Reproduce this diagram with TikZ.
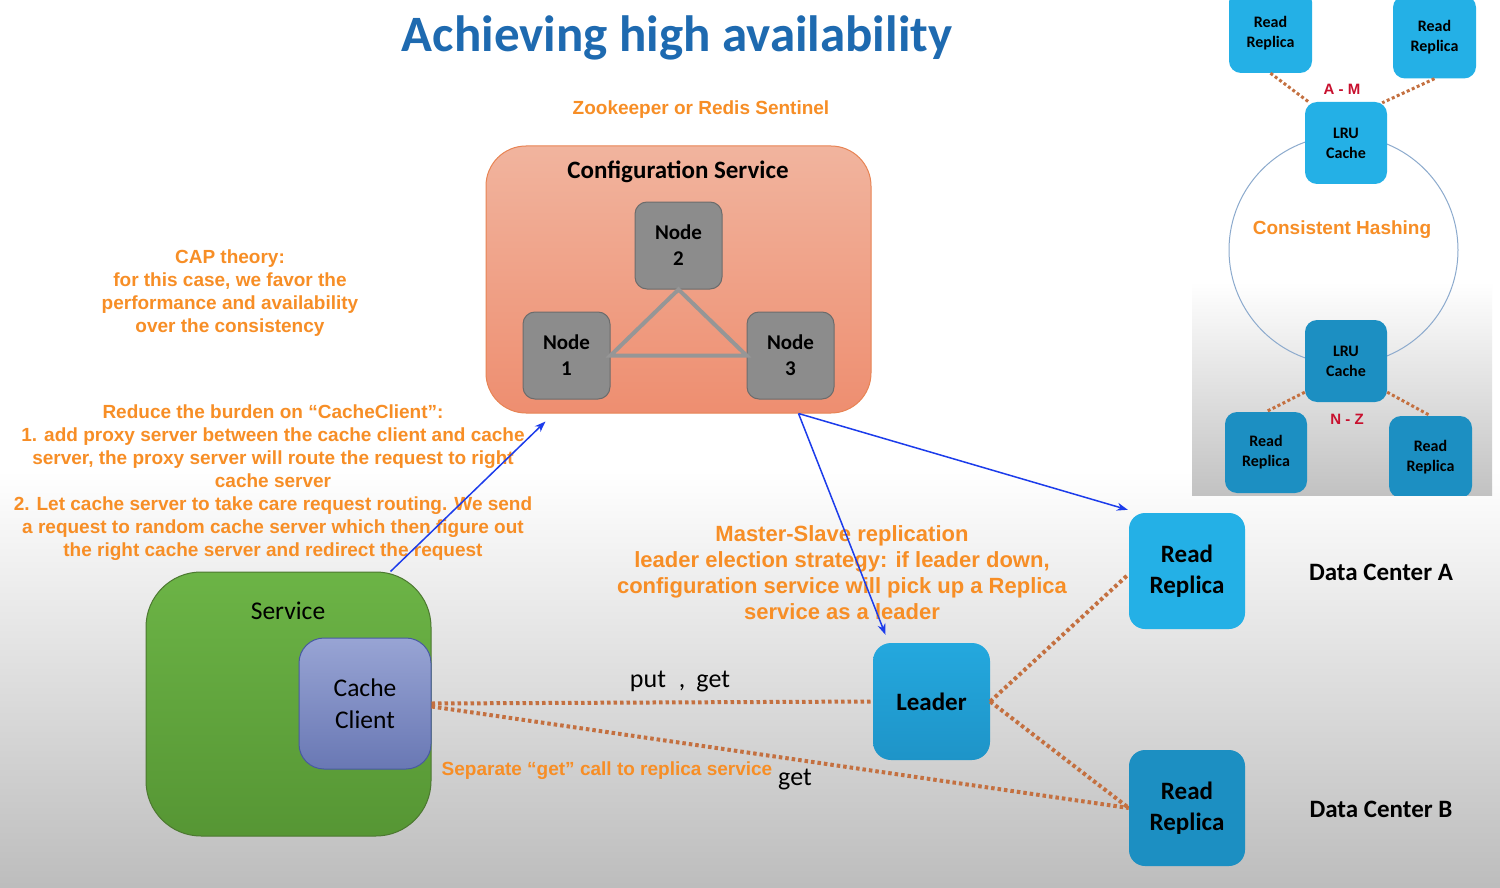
\documentclass[tikz,border=0pt]{standalone}
\usepackage{fontspec}
\setmainfont{Carlito}
\newfontfamily\arialf{Liberation Sans}
\usetikzlibrary{arrows.meta}
\definecolor{orng}{RGB}{247,142,38}
\definecolor{ttl}{RGB}{30,106,176}
\definecolor{dotc}{RGB}{196,112,64}
\definecolor{blu}{RGB}{28,60,235}
\definecolor{cfgT}{RGB}{241,180,158}
\definecolor{cfgB}{RGB}{238,142,112}
\definecolor{cfgD}{RGB}{232,132,84}
\definecolor{ndF}{RGB}{140,140,140}
\definecolor{ndD}{RGB}{108,108,108}
\definecolor{triC}{RGB}{150,150,150}
\definecolor{svT}{RGB}{108,180,70}
\definecolor{svB}{RGB}{86,150,52}
\definecolor{svD}{RGB}{76,120,48}
\definecolor{ccT}{RGB}{152,164,212}
\definecolor{ccB}{RGB}{105,120,180}
\definecolor{ccD}{RGB}{72,90,160}
\definecolor{bxA}{RGB}{36,176,230}
\definecolor{bxB}{RGB}{28,143,194}
\definecolor{ldT}{RGB}{36,168,222}
\definecolor{ldB}{RGB}{30,148,200}
\definecolor{circC}{RGB}{140,170,205}
\definecolor{redl}{RGB}{200,16,46}
\begin{document}
\begin{tikzpicture}[x=1pt,y=-1pt,
  box/.style={rectangle, inner sep=0pt, align=center},
  txt/.style={inner sep=0pt, align=center},
  otxt/.style={txt, text=orng, font=\arialf\bfseries\fontsize{19}{23}\selectfont},
  dotline/.style={draw=dotc, line width=4pt, dash pattern=on 3.5pt off 3pt},
  sdotline/.style={draw=dotc, line width=3pt, dash pattern=on 3pt off 2.5pt},
  bluearrow/.style={draw=blu, line width=1.5pt, -{Stealth[length=11pt,width=8pt]}},
  gnode/.style={box, minimum width=87, minimum height=87, rounded corners=12pt, fill=ndF, draw=ndD, line width=1pt, font=\bfseries\fontsize{21}{26}\selectfont},
  rrbig/.style={box, minimum width=116, minimum height=116, rounded corners=16pt, font=\bfseries\fontsize{25}{31}\selectfont},
  smallbox/.style={box, rounded corners=12pt, font=\bfseries\fontsize{16}{20}\selectfont}
]
\useasboundingbox (0,0) rectangle (1500,888);
\fill[white] (0,0) rectangle (1500,888);
\shade[top color=white, bottom color=black!26] (0,470) rectangle (1500,888);

% ---------- inset ----------
\begin{scope}
\clip (1192,0) rectangle (1492,495);
\fill[white] (1192,0) rectangle (1492,495);
\shade[top color=white, bottom color=black!24] (1192,282) rectangle (1492,495);
\draw[circC, line width=1pt] (1343.5,250) circle[radius=114.5];
\node[smallbox, minimum width=82, minimum height=82, fill=bxA] (lrut) at (1346,143) {LRU\\Cache};
\node[smallbox, minimum width=82, minimum height=82, fill=bxB] (lrub) at (1346,361) {LRU\\Cache};
\node[smallbox, minimum width=83, minimum height=83, fill=bxA, text depth=0pt] (tl) at (1270.5,31.5) {\rule{0pt}{4pt}Read\\Replica};
\node[smallbox, minimum width=83, minimum height=83, fill=bxA] (tr) at (1434.5,37) {Read\\Replica};
\node[smallbox, minimum width=82, minimum height=81, fill=bxB] (bl) at (1266,452.5) {Read\\Replica};
\node[smallbox, minimum width=83, minimum height=82, fill=bxB] (br) at (1430.5,457) {Read\\Replica};
\draw[sdotline] (tl.south) -- ([xshift=5pt,yshift=-1pt]lrut.north west);
\draw[sdotline] (tr.south) -- ([xshift=-5pt,yshift=-1pt]lrut.north east);
\draw[sdotline] ([yshift=10pt]lrub.south west) -- (bl.north);
\draw[sdotline] ([yshift=10pt]lrub.south east) -- (br.north);
\node[txt, text=redl, font=\arialf\bfseries\fontsize{15}{17}\selectfont] (am) at (1342,89) {A - M};
\node[txt, text=redl, font=\arialf\bfseries\fontsize{15}{17}\selectfont] (nz) at (1347,419) {N - Z};
\node[txt, text=orng, font=\arialf\bfseries\fontsize{19}{23}\selectfont] (ch) at (1342,230) {Consistent Hashing};
\end{scope}

% ---------- title ----------
\node[txt, text=ttl, font=\bfseries\fontsize{51}{60}\selectfont] (title) at (677,38) {Achieving high availability};
\node[otxt, font=\arialf\bfseries\fontsize{19}{22}\selectfont] (zoo) at (701,110) {Zookeeper or Redis Sentinel};

% ---------- configuration service ----------
\node[box, minimum width=385, minimum height=267, rounded corners=40pt, top color=cfgT, bottom color=cfgB, draw=cfgD, line width=1pt] (conf) at (678.5,279.5) {};
\node[txt, font=\bfseries\fontsize{25}{28}\selectfont] (conft) at (678,172) {Configuration Service};
\node[gnode] (n2) at (678.5,245.5) {Node\\2};
\node[gnode] (n1) at (566.5,355.5) {Node\\1};
\node[gnode] (n3) at (790.5,355.5) {Node\\3};
\draw[triC, line width=4pt, line join=miter] (n2.south) -- (n1.east) -- (n3.west) -- cycle;

% ---------- left texts ----------
\node[otxt] (cap) at (230,293) {CAP theory:\\for this case, we favor the\\performance and availability\\over the consistency};
\node[otxt] (reduce) at (273,483) {Reduce the burden on “CacheClient”:\\1. add proxy server between the cache client and cache\\server, the proxy server will route the request to right\\cache server\\2. Let cache server to take care request routing. We send\\a request to random cache server which then figure out\\the right cache server and redirect the request};

% ---------- service ----------
\node[box, minimum width=285, minimum height=264, rounded corners=55pt, top color=svT, bottom color=svB, draw=svD, line width=1pt] (svc) at (288.5,704) {};
\node[txt, font=\fontsize{25.5}{28}\selectfont] (svct) at (288,611) {Service};
\node[box, minimum width=132, minimum height=131, rounded corners=25pt, top color=ccT, bottom color=ccB, draw=ccD, line width=1pt, font=\fontsize{25.5}{32}\selectfont] (cc) at (365,703.5) {Cache\\Client};

% ---------- leader / replicas ----------
\node[box, minimum width=117, minimum height=117, rounded corners=18pt, top color=ldT, bottom color=ldB, font=\bfseries\fontsize{25}{28}\selectfont] (leader) at (931.5,701.5) {Leader};
\node[rrbig, fill=bxA] (rra) at (1187,571) {Read\\Replica};
\node[rrbig, fill=bxB] (rrb) at (1187,808) {Read\\Replica};
\node[txt, font=\bfseries\fontsize{25}{28}\selectfont] (dca) at (1381,572) {Data Center A};
\node[txt, font=\bfseries\fontsize{25}{28}\selectfont] (dcb) at (1381,809) {Data Center B};

% ---------- dotted connectors ----------
\draw[dotline] (cc.east) -- (leader.west);
\draw[dotline] ([yshift=-3pt]cc.east) -- (rrb.west);
\draw[dotline] (leader.east) -- ([yshift=-3pt]rra.west);
\draw[dotline] (leader.east) -- (rrb.west);

% ---------- middle texts ----------
\node[otxt, font=\arialf\bfseries\fontsize{22}{26}\selectfont] (master) at (842,573) {Master-Slave replication\\leader election strategy: if leader down,\\configuration service will pick up a Replica\\service as a leader};
\node[txt, font=\fontsize{26}{28}\selectfont] (putget) at (680,682) {put\hspace{13pt},\hspace{11pt}get};
\node[txt, font=\fontsize{26}{28}\selectfont] (get2) at (795,780) {get};
\node[otxt, font=\arialf\bfseries\fontsize{19}{22}\selectfont] (sep) at (607,771) {Separate “get” call to replica service};

% ---------- blue arrows ----------
\draw[bluearrow] ([xshift=102pt]svc.north) -- ([xshift=-133pt,yshift=-8pt]conf.south);
\draw[bluearrow] ([xshift=120pt]conf.south) -- ([xshift=-46pt,yshift=8pt]leader.north);
\draw[bluearrow] ([xshift=120pt]conf.south) -- ([xshift=-1pt,yshift=3pt]rra.north west);
\end{tikzpicture}
\end{document}
